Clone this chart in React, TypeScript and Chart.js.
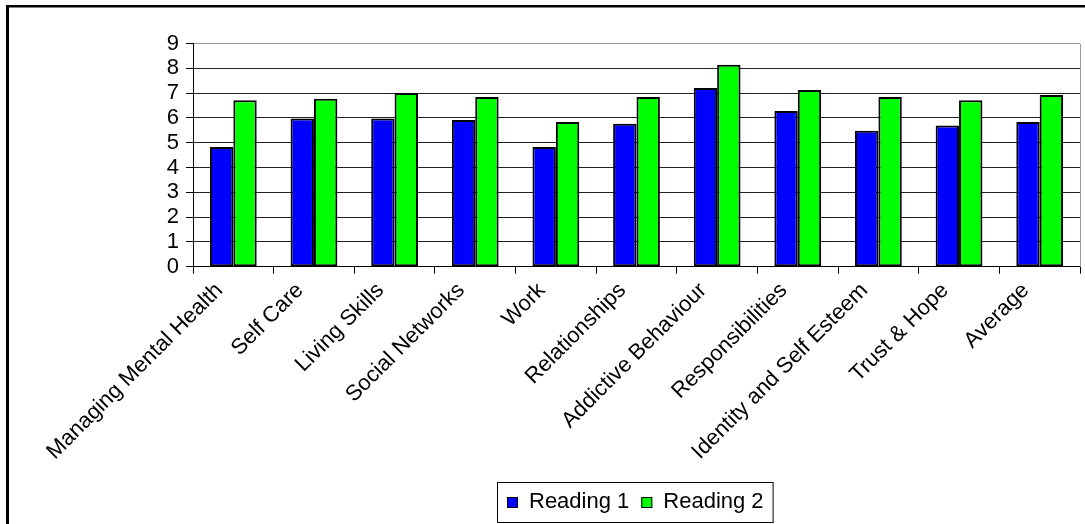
import React, { useEffect, useRef } from "react";
import { Chart, registerables } from "chart.js";

Chart.register(...registerables);

const categories = [
  "Managing Mental Health",
  "Self Care",
  "Living Skills",
  "Social Networks",
  "Work",
  "Relationships",
  "Addictive Behaviour",
  "Responsibilities",
  "Identity and Self Esteem",
  "Trust & Hope",
  "Average",
];
const reading1 = [4.83, 5.98, 5.98, 5.92, 4.83, 5.76, 7.21, 6.28, 5.48, 5.69, 5.83];
const reading2 = [6.71, 6.77, 7.0, 6.84, 5.83, 6.84, 8.14, 7.13, 6.84, 6.71, 6.92];
const seriesNames = ["Reading 1", "Reading 2"];
const yTickValues = [0, 1, 2, 3, 4, 5, 6, 7, 8, 9];

const FONT = "'Liberation Sans', Arial, sans-serif";

const decorPlugin = {
  id: "decor",
  afterDraw(chart: any) {
    const ctx = chart.ctx;
    const area = chart.chartArea;
    const xs = chart.scales.x;
    ctx.save();
    // plot area right border (grey)
    ctx.strokeStyle = "#9a9a9a";
    ctx.lineWidth = 1;
    ctx.beginPath();
    ctx.moveTo(Math.round(area.right) + 0.5, Math.round(area.top));
    ctx.lineTo(Math.round(area.right) + 0.5, Math.round(area.bottom));
    ctx.stroke();

    // outer chart frame
    ctx.fillStyle = "#000";
    ctx.fillRect(6, 5, 3, 530);
    ctx.fillRect(6, 5, 1090, 2.5);

    // category labels (rotated, clipped below the axis)
    ctx.save();
    ctx.beginPath();
    ctx.rect(0, 283, 1085, 241);
    ctx.clip();
    ctx.font = `22px ${FONT}`;
    ctx.fillStyle = "#000";
    ctx.textAlign = "right";
    ctx.textBaseline = "middle";
    chart.data.labels.forEach((lab: string, i: number) => {
      const x = xs.getPixelForValue(i) - 14;
      const y = 287;
      ctx.save();
      ctx.translate(x, y);
      ctx.rotate(-Math.PI / 4);
      ctx.fillText(lab, 0, 0);
      ctx.restore();
    });
    ctx.restore();

    // legend
    ctx.font = `22px ${FONT}`;
    const w1 = ctx.measureText(chart.data.datasets[0].label).width;
    const w2 = ctx.measureText(chart.data.datasets[1].label).width;
    const boxX = 497;
    const boxY = 482;
    const boxW = 10 + 11 + 11 + w1 + 12 + 11 + 11 + w2 + 9;
    const boxH = 40;
    ctx.strokeStyle = "#000";
    ctx.lineWidth = 1;
    ctx.strokeRect(boxX + 0.5, boxY + 0.5, boxW, boxH);
    let cx = boxX + 10;
    chart.data.datasets.forEach((ds: any, i: number) => {
      ctx.fillStyle = ds.backgroundColor;
      ctx.fillRect(cx, 497, 11, 11);
      ctx.strokeStyle = "#000";
      ctx.lineWidth = 1;
      ctx.strokeRect(cx + 0.5, 497.5, 10, 10);
      cx += 11 + 11;
      ctx.fillStyle = "#000";
      ctx.textAlign = "left";
      ctx.textBaseline = "alphabetic";
      ctx.fillText(ds.label, cx, 507.5);
      cx += (i === 0 ? w1 : w2) + 12;
    });
    ctx.restore();
  },
};

export default function App() {
  const ref = useRef<HTMLCanvasElement | null>(null);

  useEffect(() => {
    const prevMargin = document.body.style.margin;
    document.body.style.margin = "0";
    const canvas = ref.current;
    if (!canvas) return;
    const chart = new Chart(canvas, {
      type: "bar",
      data: {
        labels: categories,
        datasets: [
          {
            label: seriesNames[0],
            data: reading1,
            backgroundColor: "#0000FF",
            borderColor: "#000000",
            borderWidth: 2,
            borderSkipped: false,
            categoryPercentage: 0.58,
            barPercentage: 1.0,
          },
          {
            label: seriesNames[1],
            data: reading2,
            backgroundColor: "#00FF00",
            borderColor: "#000000",
            borderWidth: 2,
            borderSkipped: false,
            categoryPercentage: 0.58,
            barPercentage: 1.0,
          },
        ],
      },
      options: {
        responsive: false,
        animation: false,
        devicePixelRatio: 1,
        layout: {
          padding: { left: 0, top: 43.5, right: 5, bottom: 524 - 266.7 - 7 },
        },
        plugins: {
          legend: { display: false },
          tooltip: { enabled: false },
          title: { display: false },
        },
        scales: {
          x: {
            type: "category",
            grid: {
              display: true,
              offset: true,
              drawOnChartArea: false,
              drawTicks: true,
              tickLength: 7,
              color: "#000",
              tickColor: "#000",
            },
            border: { display: true, color: "#000", width: 1 },
            ticks: { display: false },
            afterFit: (scale: any) => {
              scale.height = 7;
            },
          },
          y: {
            min: 0,
            max: 9,
            afterBuildTicks: (scale: any) => {
              scale.ticks = yTickValues.map((v) => ({ value: v }));
            },
            grid: {
              color: (c: any) =>
                c.tick && c.tick.value === 9 ? "#9a9a9a" : "#222222",
              tickColor: "#000",
              tickLength: 7,
              lineWidth: 1,
            },
            border: { display: true, color: "#000", width: 1 },
            ticks: {
              autoSkip: false,
              padding: 7,
              color: "#000",
              font: { family: FONT, size: 22, lineHeight: 1 },
            },
            afterFit: (scale: any) => {
              scale.width = 193;
            },
          },
        },
      },
      plugins: [decorPlugin],
    });
    return () => {
      chart.destroy();
      document.body.style.margin = prevMargin;
    };
  }, []);

  return (
    <div
      style={{
        position: "fixed",
        left: 0,
        top: 0,
        width: 1085,
        height: 524,
        background: "#fff",
      }}
    >
      <canvas
        ref={ref}
        width={1085}
        height={524}
        style={{ width: 1085, height: 524, display: "block" }}
      />
    </div>
  );
}
